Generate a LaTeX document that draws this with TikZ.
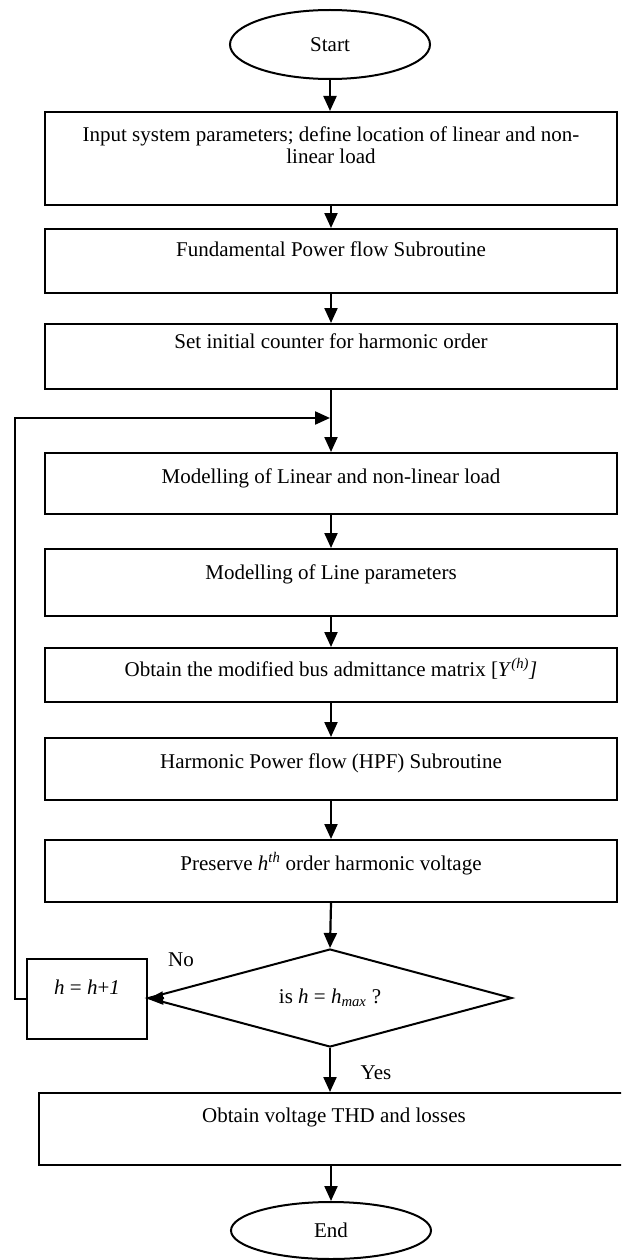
\documentclass[tikz,border=0pt]{standalone}
\usepackage{fontspec}
\setmainfont{Liberation Serif}
\usetikzlibrary{arrows.meta,shapes.geometric}
\newcommand{\myboxtext}[4]{\parbox[c][#1][t]{#2}{\centering\rule{0pt}{#3}#4}}
\begin{document}
\begin{tikzpicture}[x=1pt,y=-1pt,
  font=\fontsize{21}{21}\selectfont,
  procbox/.style={draw, rectangle, line width=2pt, inner sep=0pt, anchor=north west},
  term/.style={draw, ellipse, line width=2pt, minimum width=200pt, inner sep=0pt},
  decision/.style={draw, diamond, line width=2pt, aspect=3.7, minimum width=364pt, minimum height=98pt, inner sep=0pt},
  arr/.style={line width=2.2pt, -{Triangle[width=13pt,length=15pt]}},
  lbl/.style={inner sep=0pt}]
\useasboundingbox (0,0) rectangle (621,1260);
\clip (0,0) rectangle (621,1260);

\node[term, minimum height=69pt] (start) at (330,44.5) {Start};
\node[procbox] (b1) at (44,111) {\myboxtext{93pt}{572pt}{30pt}{Input system parameters; define location of linear and non-\\linear load}};
\node[procbox] (b2) at (44,228) {\myboxtext{64pt}{572pt}{27pt}{Fundamental Power flow Subroutine}};
\node[procbox] (b3) at (44,323) {\myboxtext{65pt}{572pt}{24pt}{Set initial counter for harmonic order}};
\node[procbox] (b4) at (44,452) {\myboxtext{61pt}{572pt}{30pt}{Modelling of Linear and non-linear load}};
\node[procbox] (b5) at (44,548) {\myboxtext{67pt}{572pt}{30pt}{Modelling of Line parameters}};
\node[procbox] (b6) at (44,647) {\myboxtext{54pt}{572pt}{28pt}{Obtain the modified bus admittance matrix [\textit{Y}\textsuperscript{\textit{(h)}}\textit{]}}};
\node[procbox] (b7) at (44,737) {\myboxtext{62pt}{572pt}{30pt}{Harmonic Power flow (HPF) Subroutine}};
\node[procbox] (b8) at (44,839) {\myboxtext{62pt}{572pt}{30pt}{Preserve \textit{h}\textsuperscript{\textit{th}} order harmonic voltage}};
\node[decision] (dia) at (330,998) {is \textit{h} = \textit{h}\textsubscript{\textit{max}} ?};
\node[procbox] (hb) at (26,958) {\myboxtext{80pt}{120pt}{35pt}{\textit{h} = \textit{h}+\textit{1}}};
\node[procbox] (b9) at (38,1092) {\myboxtext{72pt}{590pt}{29pt}{Obtain voltage THD and losses}};
\node[term, minimum height=57pt] (endn) at (331,1230.5) {End};

\node[lbl] (no) at (181,960) {No};
\node[lbl] (yes) at (376,1073) {Yes};

\coordinate (join) at (330,418);
\coordinate (fb) at (15,418);

\draw[arr] (start.south) -- (start.south |- b1.north);
\draw[arr] (b1.south) -- (b2.north);
\draw[arr] (b2.south) -- (b3.north);
\draw[arr] (b3.south) -- (b4.north);
\draw[arr] (b4.south) -- (b5.north);
\draw[arr] (b5.south) -- (b6.north);
\draw[arr] (b6.south) -- (b7.north);
\draw[arr] (b7.south) -- (b8.north);
\draw[arr] (b8.south) -- (dia.north);
\draw[arr] ([xshift=17pt]dia.west) -- (hb.east);
\draw[arr] (hb.west) -| (fb) -- (join);
\draw[arr] (dia.south) -- (dia.south |- b9.north);
\draw[arr] (b9.south -| endn.north) -- (endn.north);
\end{tikzpicture}
\end{document}
